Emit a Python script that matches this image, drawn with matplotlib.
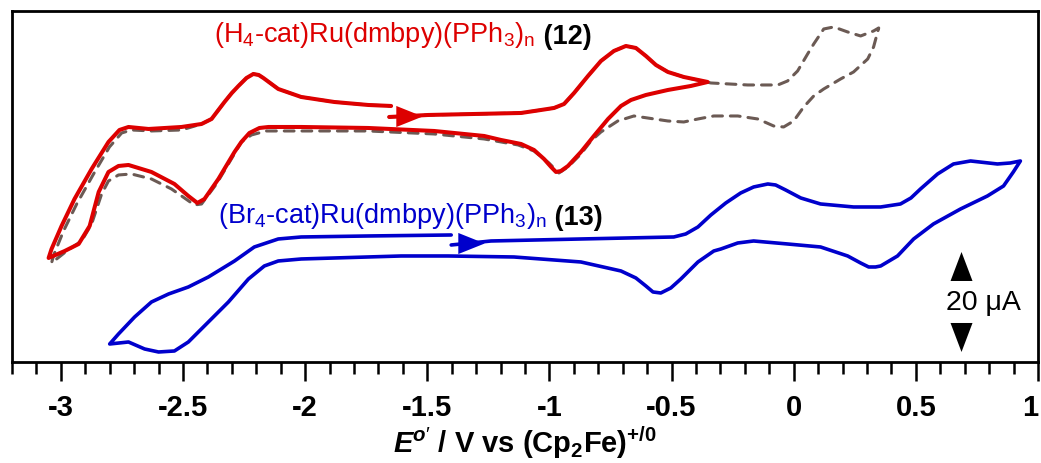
import matplotlib
matplotlib.use('Agg')
from matplotlib import pyplot as plt
import numpy as np

plt.rcParams['font.family'] = ['Liberation Sans', 'DejaVu Sans']
plt.rcParams['axes.unicode_minus'] = False
plt.rcParams['mathtext.fontset'] = 'custom'
plt.rcParams['mathtext.rm'] = 'Liberation Sans'
plt.rcParams['mathtext.it'] = 'Liberation Sans:italic'
plt.rcParams['mathtext.bf'] = 'Liberation Sans:bold'
plt.rcParams['mathtext.bfit'] = 'Liberation Sans:italic:bold'

# CV data (E in V vs Fc+/0, current in uA with arbitrary offset)
# (H4-cat)Ru(dmbpy)(PPh3)n (12), scan starts at the arrow going positive
red_v = [-1.656, -1.496, -1.116, -1.034, -0.981, -0.940, -0.899, -0.842, -0.789, -0.736, -0.687, -0.646,
         -0.605, -0.564, -0.515, -0.450, -0.352,
         -0.421, -0.515, -0.605, -0.666, -0.707, -0.760, -0.818, -0.871, -0.924, -0.953, -0.973, -0.993,
         -1.022, -1.063, -1.116, -1.198, -1.267, -1.472, -1.742, -2.016, -2.150, -2.187, -2.228, -2.261,
         -2.289, -2.355, -2.412, -2.441, -2.478, -2.535, -2.629, -2.723, -2.764, -2.805, -2.845, -2.882,
         -2.927, -2.984, -3.050,
         -3.038, -2.997, -2.944, -2.874, -2.805, -2.760, -2.723, -2.641, -2.506, -2.424, -2.383, -2.330,
         -2.300, -2.273, -2.240, -2.212, -2.190, -2.171, -2.110, -2.016, -1.881, -1.742, -1.648]
red_i = [49.0, 49.4, 49.8, 50.4, 50.8, 51.6, 53.8, 57.2, 60.2, 62.2, 63.2, 62.8,
         61.2, 59.4, 58.0, 57.0, 56.0,
         55.2, 54.4, 53.4, 52.4, 51.2, 48.6, 45.2, 42.0, 39.2, 38.2, 38.0, 39.0,
         40.6, 42.4, 43.6, 44.4, 45.2, 46.2, 46.8, 47.0, 47.0, 46.8, 45.8, 44.0,
         42.0, 36.6, 32.6, 31.8, 33.2, 35.6, 38.0, 39.4, 39.2, 38.0, 34.0, 27.2,
         23.6, 22.2, 20.8,
         22.6, 27.2, 32.6, 38.6, 44.0, 46.4, 47.0, 46.6, 47.0, 47.6, 48.6, 52.0,
         53.8, 55.2, 56.8, 57.6, 57.4, 56.8, 54.6, 53.0, 52.0, 51.4, 51.2]

# same compound, wider window (dashed)
dash_v = [-1.656, -1.496, -1.116, -1.034, -0.981, -0.940, -0.899, -0.842, -0.789, -0.736, -0.687, -0.646,
          -0.605, -0.564, -0.515, -0.450,
          -0.339, -0.188, -0.065, -0.025, 0.016, 0.057, 0.082, 0.123, 0.164, 0.221, 0.274, 0.327, 0.348,
          0.327, 0.303, 0.245, 0.192, 0.123, 0.082, 0.041, 0.000, -0.041, -0.082, -0.147, -0.229, -0.327,
          -0.392, -0.450, -0.515, -0.654, -0.720, -0.789, -0.830, -0.871, -0.924, -0.961, -1.002, -1.063,
          -1.128, -1.267, -1.472, -1.742, -2.016, -2.159, -2.220, -2.261, -2.302, -2.363, -2.424, -2.453,
          -2.494, -2.547, -2.629, -2.711, -2.764, -2.805, -2.833, -2.874, -2.915, -2.976, -3.038,
          -3.029, -2.989, -2.935, -2.866, -2.801, -2.751, -2.711, -2.629, -2.506, -2.424, -2.383, -2.330,
          -2.300, -2.273, -2.240, -2.212, -2.190, -2.171, -2.110, -2.016, -1.881, -1.742, -1.648]
dash_i = [49.0, 49.4, 49.8, 50.4, 50.8, 51.6, 53.8, 57.2, 60.2, 62.2, 63.2, 62.8,
          61.2, 59.4, 58.0, 57.0,
          55.8, 55.4, 55.4, 56.2, 58.2, 61.6, 63.6, 66.6, 67.0, 66.0, 65.2, 66.2, 66.8,
          63.0, 60.6, 58.0, 56.6, 54.6, 53.2, 51.0, 48.2, 47.0, 47.2, 48.6, 49.2, 49.2,
          48.6, 48.0, 48.2, 49.2, 48.2, 46.0, 44.2, 41.6, 39.0, 37.8, 39.8, 42.2,
          43.4, 44.6, 45.6, 46.2, 46.2, 46.2, 45.4, 44.0, 40.6, 35.6, 31.6, 31.4,
          32.8, 34.6, 36.6, 37.6, 37.4, 36.2, 33.6, 27.6, 24.2, 22.2, 19.8,
          21.4, 26.2, 31.6, 37.6, 43.0, 45.8, 46.4, 46.2, 46.4, 47.6, 48.6, 52.0,
          53.8, 55.2, 56.8, 57.6, 57.4, 56.8, 54.6, 53.0, 52.0, 51.4, 51.2]

# (Br4-cat)Ru(dmbpy)(PPh3)n (13)
blue_v = [-1.402, -1.239, -0.871, -0.491, -0.442, -0.392, -0.339, -0.278, -0.217, -0.164, -0.106, -0.074,
          -0.033, 0.029, 0.110, 0.245, 0.356, 0.437, 0.480, 0.519, 0.589, 0.654, 0.724, 0.834, 0.887, 0.928,
          0.899, 0.859, 0.793, 0.683, 0.572, 0.491, 0.425, 0.356, 0.335, 0.307, 0.274, 0.221, 0.110, -0.025,
          -0.164, -0.229, -0.298, -0.327, -0.392, -0.462, -0.503, -0.544, -0.576, -0.605, -0.646, -0.707,
          -0.871, -1.145, -1.415, -1.607, -2.016, -2.110, -2.167, -2.232, -2.314, -2.396, -2.478, -2.535,
          -2.600, -2.657, -2.723, -2.800,
          -2.764, -2.698, -2.629, -2.559, -2.478, -2.396, -2.289, -2.208, -2.110, -2.016, -1.742, -1.402]
blue_i = [23.4, 24.2, 24.6, 25.0, 25.6, 27.0, 29.4, 31.8, 33.8, 35.0, 35.6, 35.4,
          34.4, 32.8, 31.6, 31.0, 31.0, 31.6, 32.8, 34.6, 37.6, 39.6, 40.2, 39.6, 39.8, 40.2,
          38.0, 35.2, 33.2, 30.6, 27.6, 24.6, 21.2, 19.2, 19.0, 19.0, 19.8, 21.2, 23.0, 23.6,
          24.2, 23.8, 22.6, 22.2, 20.0, 16.6, 14.8, 13.8, 14.0, 15.2, 16.8, 18.2,
          20.0, 21.0, 21.2, 21.2, 20.6, 20.2, 19.2, 16.6, 12.0, 8.0, 4.0, 2.2,
          2.0, 2.6, 4.0, 3.6,
          5.6, 9.0, 12.0, 13.6, 15.0, 17.0, 20.2, 23.0, 24.6, 25.0, 25.2, 25.4]

scale_uA = 20

RED = '#dd0000'
BLUE = '#0000cc'
GRAY = '#6b5a54'

fig = plt.figure(figsize=(10.41, 4.64), dpi=100)
ax = fig.add_axes([0.0115, 0.2177, 0.9856, 0.7565])

ax.plot(dash_v, dash_i, color=GRAY, lw=2.2, ls=(0, (3.2, 2.6)), dash_capstyle='round')
ax.plot(red_v, red_i, color=RED, lw=2.9, solid_joinstyle='round', solid_capstyle='round')
ax.plot(blue_v, blue_i, color=BLUE, lw=2.6, solid_joinstyle='round', solid_capstyle='round')

# scan direction arrows
head = [(-0.5, -0.4), (0.5, 0.0), (-0.5, 0.4)]
ax.plot(np.mean(red_v[:2]), np.mean(red_i[:2]), marker=head, ms=19, color=RED, mew=0)
ax.plot(np.mean(blue_v[:2]), np.mean(blue_i[:2]), marker=head, ms=19, color=BLUE, mew=0)

# labels
t12 = ax.text(-2.371, 64.2, r'(H$_\mathregular{4}$-cat)Ru(dmbpy)(PPh$_\mathregular{3}$)$_\mathregular{n}$',
              color=RED, fontsize=19.5, va='baseline')
ax.annotate(' (12)', xy=(1, 0), xycoords=t12, va='bottom', fontsize=19.5, fontweight='bold')
t13 = ax.text(-2.355, 28.0, r'(Br$_\mathregular{4}$-cat)Ru(dmbpy)(PPh$_\mathregular{3}$)$_\mathregular{n}$',
              color=BLUE, fontsize=19.5, va='baseline')
ax.annotate(' (13)', xy=(1, 0), xycoords=t13, va='bottom', fontsize=19.5, fontweight='bold')

# 20 uA scale bar
sx, sb = 0.687, 2.0
hw, hh = 0.045, 5.8
ax.fill([sx - hw, sx + hw, sx], [sb + scale_uA - hh, sb + scale_uA - hh, sb + scale_uA], color='k', lw=0)
ax.fill([sx - hw, sx + hw, sx], [sb + hh, sb + hh, sb], color='k', lw=0)
ax.text(sx + 0.09, sb + scale_uA / 2, '%d μA' % scale_uA, fontsize=20.5, ha='center', va='center')

ax.set_xlim(-3.2, 1.0)
ax.set_ylim(0, 70.2)
ax.set_yticks([])
ax.set_xticks(np.arange(-3, 1.01, 0.5))
ax.set_xticklabels(['-3', '-2.5', '-2', '-1.5', '-1', '-0.5', '0', '0.5', '1'])
ax.set_xticks(np.arange(-3.2, 1.01, 0.1), minor=True)
ax.tick_params(axis='x', which='major', direction='out', length=14, width=1.8, pad=8, labelsize=21)
ax.tick_params(axis='x', which='minor', direction='out', length=8.5, width=1.8)
for lab in ax.get_xticklabels():
    lab.set_fontweight('bold')
ax.get_xticklabels()[-1].set_horizontalalignment('right')
for s in ax.spines.values():
    s.set_linewidth(2.0)

ax.set_xlabel(r'$\mathbfit{E}^{\mathbfit{o}\prime}$ / V vs (Cp$_\mathbf{2}$Fe)$^\mathbf{+/0}$',
              fontsize=21, fontweight='bold', labelpad=2)

fig.savefig('out.png', dpi=100)
